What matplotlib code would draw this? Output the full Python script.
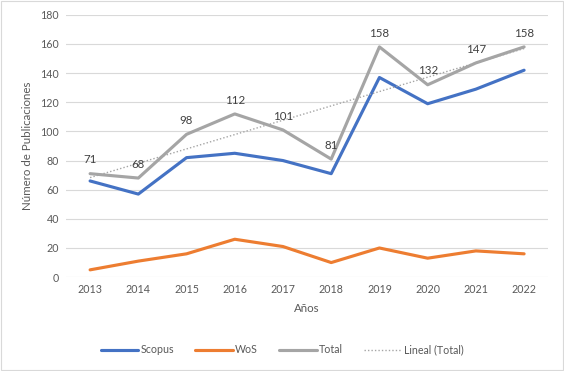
import matplotlib
matplotlib.use("Agg")
import matplotlib.pyplot as plt
import numpy as np

years = ["2013", "2014", "2015", "2016", "2017", "2018", "2019", "2020", "2021", "2022"]
scopus = [66, 57, 82, 85, 80, 71, 137, 119, 129, 142]
wos = [5, 11, 16, 26, 21, 10, 20, 13, 18, 16]
total = [71, 68, 98, 112, 101, 81, 158, 132, 147, 158]

plt.rcParams['font.family'] = ['Lato', 'DejaVu Sans']

fig = plt.figure(figsize=(5.64, 3.71), dpi=100)
ax = fig.add_axes([0.117, 0.253, 0.855, 0.707])

x = np.arange(len(years))
ax.plot(x, scopus, color="#4472C4", lw=2.25, label="Scopus", solid_capstyle="round")
ax.plot(x, wos, color="#ED7D31", lw=2.25, label="WoS", solid_capstyle="round")
ax.plot(x, total, color="#A5A5A5", lw=2.25, label="Total", solid_capstyle="round")
coef = np.polyfit(x, total, 1)
ax.plot(x, np.polyval(coef, x), color="#A5A5A5", lw=1, ls=(0, (1, 1.5)), label="Lineal (Total)")

for xi, v in zip(x, total):
    ax.annotate(str(v), (xi, v), xytext=(0, 6), textcoords="offset points",
                ha="center", va="bottom", fontsize=8.3, color="#404040")

ax.set_xlim(-0.5, len(years) - 0.5)
ax.set_ylim(0, 180)
ax.set_yticks(range(0, 181, 20))
ax.set_xticks(x)
ax.set_xticklabels(years)
ax.tick_params(axis="both", length=0, labelsize=7.7, colors="#595959", pad=5)
ax.grid(axis="y", color="#D9D9D9", lw=0.8)
ax.set_axisbelow(True)
for s in ax.spines.values():
    s.set_visible(False)

ax.set_xlabel("Años", fontsize=8.3, color="#595959", labelpad=6)
ax.set_ylabel("Número de Publicaciones", fontsize=8.3, color="#595959", labelpad=5)

leg = fig.legend(loc="center", bbox_to_anchor=(0.5, 0.057), ncol=4, frameon=False,
                 fontsize=7.7, handlelength=3.5, handletextpad=0.2, columnspacing=2.0)
for t in leg.get_texts():
    t.set_color("#595959")

fig.patches.append(plt.Rectangle((0.002, 0.003), 0.996, 0.994, transform=fig.transFigure,
                                 fill=False, edgecolor="#D9D9D9", lw=0.8))

fig.savefig("out.png", dpi=100)
